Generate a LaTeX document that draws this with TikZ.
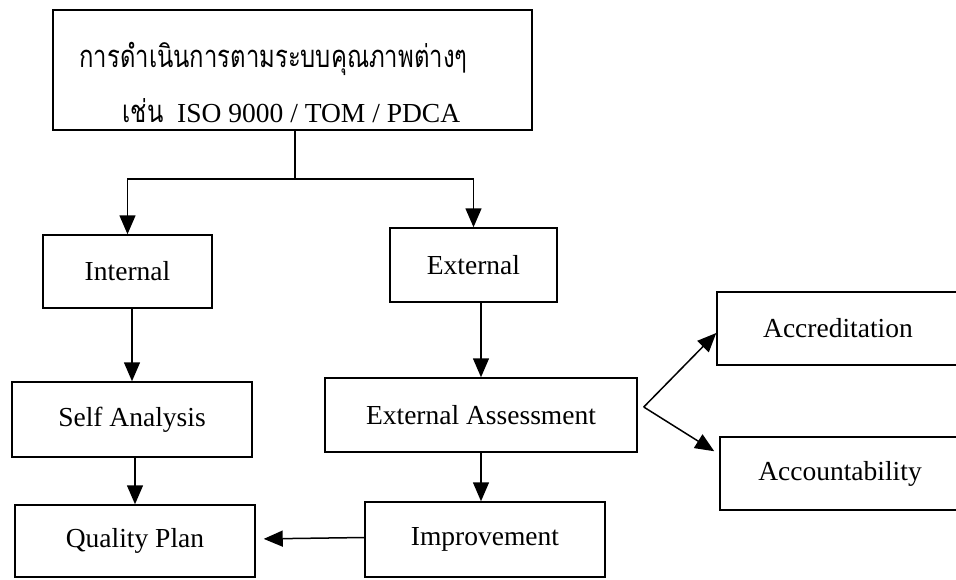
\documentclass[tikz,border=0pt]{standalone}
\usepackage{fontspec}
\setmainfont{Liberation Serif}
\newfontfamily\thaifont[Script=Thai]{Loma}
\usetikzlibrary{arrows.meta,calc}
\begin{document}
\begin{tikzpicture}[x=1pt,y=-1pt,
  box/.style={draw,line width=1.5pt,inner sep=0pt,font=\fontsize{27.5}{30}\selectfont},
  conn/.style={line width=1.5pt},
  arr/.style={line width=1.5pt,-{Triangle[width=16pt,length=19pt]}}]
\useasboundingbox (0,0) rectangle (956,579);
\clip (0,0) rectangle (956,579);
% boxes
\node[box,minimum width=479pt,minimum height=120pt] (top) at (292.5,70) {};
\node[anchor=base,font=\thaifont\fontsize{31}{33}\selectfont] (t1) at (273.5,67) {\scalebox{0.77}[1]{การดำเนินการตามระบบคุณภาพต่างๆ}};
\node[anchor=base,font=\fontsize{27.5}{30}\selectfont] (t2) at (291.5,122) {{\thaifont\fontsize{31}{33}\selectfont\scalebox{0.77}[1]{เช่น}}\ \ ISO 9000 / TOM / PDCA};
\node[box,minimum width=169pt,minimum height=73pt] (int) at (127.5,271.5) {Internal};
\node[box,minimum width=167pt,minimum height=74pt] (ext) at (473.5,265) {External};
\node[box,minimum width=240pt,minimum height=75pt] (self) at (132,419.5) {Self Analysis};
\node[box,minimum width=312pt,minimum height=74pt] (ea) at (481,415) {External Assessment};
\node[box,minimum width=240pt,minimum height=72pt] (qp) at (135,541) {Quality Plan};
\node[box,minimum width=240pt,minimum height=75pt] (imp) at (485,539.5) {Improvement};
\node[box,minimum width=242pt,minimum height=73pt] (acc) at (838,328.5) {Accreditation};
\node[box,minimum width=240pt,minimum height=73pt] (acct) at (840,473.5) {Accountability};
% connectors
\coordinate (j) at ($(top.south)+(2.5,48)$);
\draw[conn] (top.south -| j) -- (j);
\draw[arr] (j) -| (int.north);
\draw[arr] (j) -| (ext.north);
\draw[arr] (int.south -| self.north) -- (self.north);
\draw[arr] (self.south -| qp.north) -- (qp.north);
\draw[arr] (ea.north |- ext.south) -- (ea.north);
\draw[arr] (ea.south) -- (ea.south |- imp.north);
\draw[arr,shorten >=8pt] ($(imp.west)+(0,-2)$) -- ($(qp.east)+(0,-2)$);
\coordinate (br) at ($(ea.east)+(6,-8)$);
\draw[arr] (br) -- ($(acc.west)+(0,4.5)$);
\draw[arr] (br) -- ($(acct.north west)+(-5,15)$);
\end{tikzpicture}
\end{document}
